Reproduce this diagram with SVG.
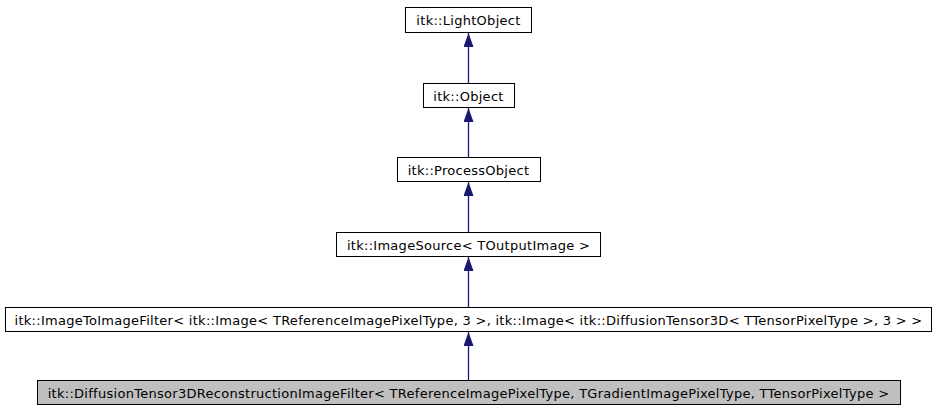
<svg xmlns="http://www.w3.org/2000/svg" width="936" height="411" viewBox="0 0 936 411">
<defs>
<style>
.b{fill:#fff;stroke:#000;stroke-width:1}
.g{fill:#bfbfbf;stroke:#000;stroke-width:1}
text{font-family:"DejaVu Sans",sans-serif;font-size:13px;letter-spacing:0.28px;text-anchor:middle;fill:#000}
.e{stroke:#191970;stroke-width:1.3;fill:none}
</style>
<marker id="ah" viewBox="0 0 10 14" refX="5" refY="0" markerWidth="10" markerHeight="14" markerUnits="userSpaceOnUse" orient="0">
<path d="M5,0 L10,14 L0,14 Z" fill="#191970"/>
</marker>
</defs>
<rect width="936" height="411" fill="#fff"/>
<g id="edges">
<line class="e" x1="468.5" y1="83" x2="468.5" y2="33" marker-end="url(#ah)"/>
<line class="e" x1="468.5" y1="157" x2="468.5" y2="108" marker-end="url(#ah)"/>
<line class="e" x1="468.5" y1="232" x2="468.5" y2="182" marker-end="url(#ah)"/>
<line class="e" x1="468.5" y1="307" x2="468.5" y2="257" marker-end="url(#ah)"/>
<line class="e" x1="468.5" y1="380" x2="468.5" y2="332" marker-end="url(#ah)"/>
</g>
<g id="n1"><rect class="b" x="405.5" y="7.5" width="126" height="25"/><text x="468.5" y="25">itk::LightObject</text></g>
<g id="n2"><rect class="b" x="423.5" y="83.5" width="91" height="24"/><text x="468.5" y="100.5">itk::Object</text></g>
<g id="n3"><rect class="b" x="397.5" y="157.5" width="143" height="24"/><text x="468.5" y="174.5">itk::ProcessObject</text></g>
<g id="n4"><rect class="b" x="336.5" y="232.5" width="264" height="24"/><text x="468.5" y="249.5">itk::ImageSource&lt; TOutputImage &gt;</text></g>
<g id="n5"><rect class="b" x="5.5" y="307.5" width="926" height="24"/><text x="468.5" y="324.5">itk::ImageToImageFilter&lt; itk::Image&lt; TReferenceImagePixelType, 3 &gt;, itk::Image&lt; itk::DiffusionTensor3D&lt; TTensorPixelType &gt;, 3 &gt; &gt;</text></g>
<g id="n6"><rect class="g" x="37.5" y="380.5" width="863" height="24"/><text x="468.5" y="397.5">itk::DiffusionTensor3DReconstructionImageFilter&lt; TReferenceImagePixelType, TGradientImagePixelType, TTensorPixelType &gt;</text></g>
</svg>
